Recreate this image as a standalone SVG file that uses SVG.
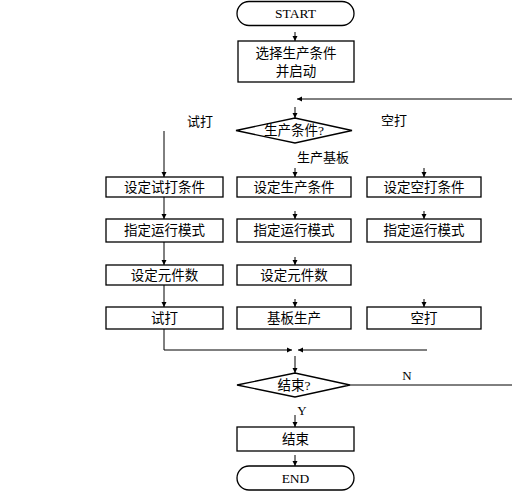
<svg xmlns="http://www.w3.org/2000/svg" width="512" height="492" viewBox="0 0 512 492">
<defs>
<marker id="ah" markerWidth="5" markerHeight="6" refX="5" refY="3" orient="auto" markerUnits="userSpaceOnUse">
<path d="M0,0.5 L5,3 L0,5.5 Z" fill="#000"/>
</marker>
</defs>
<style>
.s{fill:#fff;stroke:#000;stroke-width:1.3}
.c{fill:none;stroke:#000;stroke-width:1;marker-end:url(#ah)}
.l{fill:none;stroke:#000;stroke-width:1}
text{font-family:"Liberation Serif","Noto Sans CJK SC",serif;font-size:13.5px;fill:#000;text-anchor:middle;dominant-baseline:central}
.lb{font-size:13px}
</style>
<rect width="512" height="492" fill="#fff"/>
<g id="connectors">
<line class="c" x1="295" y1="32" x2="295" y2="41"/>
<polyline class="c" points="512,99 297,99"/>
<line class="c" x1="295" y1="107" x2="295" y2="118"/>
<polyline class="c" points="164,131 164,177"/>
<line class="c" x1="295" y1="168" x2="295" y2="177"/>
<line class="c" x1="424" y1="168" x2="424" y2="177"/>
<line class="c" x1="164" y1="197" x2="164" y2="219"/>
<line class="c" x1="295" y1="211" x2="295" y2="219"/>
<line class="c" x1="424" y1="211" x2="424" y2="219"/>
<line class="c" x1="164" y1="242" x2="164" y2="265"/>
<line class="c" x1="295" y1="257" x2="295" y2="265"/>
<line class="c" x1="164" y1="284" x2="164" y2="307"/>
<line class="c" x1="295" y1="299" x2="295" y2="307"/>
<line class="c" x1="424" y1="299" x2="424" y2="307"/>
<polyline class="c" points="164,329 164,350 292,350"/>
<polyline class="c" points="427,350 298,350"/>
<line class="c" x1="295" y1="356" x2="295" y2="373"/>
<line class="l" x1="350" y1="385" x2="512" y2="385"/>
<line class="c" x1="295" y1="415" x2="295" y2="427"/>
<line class="c" x1="295" y1="455" x2="295" y2="466"/>
<text class="lb" x="200" y="121">试打</text>
<text class="lb" x="394" y="120">空打</text>
<text class="lb" x="323" y="157">生产基板</text>
<text class="lb" x="407" y="375">N</text>
<text class="lb" x="302" y="410">Y</text>
</g>
<g id="start"><rect class="s" x="237" y="1.5" width="117" height="24" rx="12"/><text x="295.5" y="13.5">START</text></g>
<g id="select"><rect class="s" x="238" y="41" width="116" height="41"/><text x="296" y="53">选择生产条件</text><text x="296" y="71">并启动</text></g>
<g id="cond"><polygon class="s" points="236,130.5 295,118 352,130.5 295,143"/><text x="294" y="130.5">生产条件?</text></g>
<g id="l1"><rect class="s" x="106" y="177" width="117" height="20"/><text x="164.5" y="187">设定试打条件</text></g>
<g id="c1"><rect class="s" x="237" y="177" width="114" height="20"/><text x="294" y="187">设定生产条件</text></g>
<g id="r1"><rect class="s" x="367" y="177" width="114" height="20"/><text x="424" y="187">设定空打条件</text></g>
<g id="l2"><rect class="s" x="106" y="219" width="117" height="23"/><text x="164.5" y="230.5">指定运行模式</text></g>
<g id="c2"><rect class="s" x="237" y="219" width="114" height="23"/><text x="294" y="230.5">指定运行模式</text></g>
<g id="r2"><rect class="s" x="367" y="219" width="114" height="23"/><text x="424" y="230.5">指定运行模式</text></g>
<g id="l3"><rect class="s" x="106" y="265" width="117" height="20"/><text x="164.5" y="275">设定元件数</text></g>
<g id="c3"><rect class="s" x="237" y="265" width="114" height="20"/><text x="294" y="275">设定元件数</text></g>
<g id="l4"><rect class="s" x="106" y="307" width="117" height="22"/><text x="164.5" y="318">试打</text></g>
<g id="c4"><rect class="s" x="237" y="307" width="114" height="22"/><text x="294" y="318">基板生产</text></g>
<g id="r4"><rect class="s" x="367" y="307" width="114" height="22"/><text x="424" y="318">空打</text></g>
<g id="endq"><polygon class="s" points="237,385 295,373 350,385 295,397"/><text x="294" y="385">结束?</text></g>
<g id="endbox"><rect class="s" x="237" y="427" width="117" height="24"/><text x="295.5" y="439">结束</text></g>
<g id="end"><rect class="s" x="237" y="466" width="117" height="24" rx="12"/><text x="295.5" y="478">END</text></g>
</svg>
